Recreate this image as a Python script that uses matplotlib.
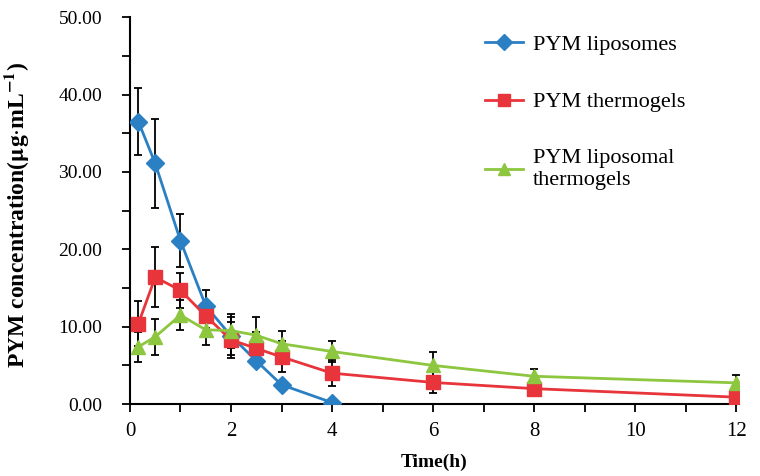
import numpy as np
import matplotlib
matplotlib.use("Agg")
import matplotlib.pyplot as plt
from matplotlib.ticker import MultipleLocator, FormatStrFormatter

plt.rcParams['font.family'] = ['Liberation Serif', 'DejaVu Serif']
plt.rcParams['mathtext.fontset'] = 'stix'

# Data
time_liposomes = [0.167, 0.5, 1, 1.5, 2, 2.5, 3, 4]
liposomes_mean = [36.5, 31.1, 21.1, 12.7, 8.8, 5.6, 2.5, 0.2]
liposomes_sd = [4.3, 5.8, 3.4, 2.1, 2.4, 0.5, 0.3, 0.0]

time_gels = [0.167, 0.5, 1, 1.5, 2, 2.5, 3, 4, 6, 8, 12]
thermogels_mean = [10.4, 16.4, 14.7, 11.4, 8.3, 7.2, 6.1, 4.0, 2.8, 2.0, 0.9]
thermogels_sd = [2.9, 3.9, 2.3, 1.5, 2.3, 2.1, 2.0, 1.7, 1.3, 0.4, 0.3]

lipo_gels_mean = [7.4, 8.7, 11.5, 9.6, 9.5, 8.9, 7.8, 6.8, 5.0, 3.6, 2.75]
lipo_gels_sd = [1.9, 2.3, 1.9, 2.0, 2.2, 2.3, 1.7, 1.4, 1.7, 1.0, 1.0]

blue = '#2b80c3'
red = '#e8343b'
green = '#8dc63f'

figure_1 = plt.figure(figsize=(7.6, 4.76), dpi=100)
axis_1 = figure_1.add_axes([0.171, 0.151, 0.801, 0.813])

# Error bars first so markers sit on top
for t, m, sd in [(time_liposomes, liposomes_mean, liposomes_sd),
                 (time_gels, thermogels_mean, thermogels_sd),
                 (time_gels, lipo_gels_mean, lipo_gels_sd)]:
    axis_1.errorbar(t, m, yerr=sd, fmt='none', ecolor='black', elinewidth=1.3,
                    capsize=3, capthick=1.3, zorder=2)

axis_1.plot(time_liposomes, liposomes_mean, color=blue, marker='D', markersize=9,
            linewidth=2, label='PYM liposomes', zorder=3)
axis_1.plot(time_gels, thermogels_mean, color=red, marker='s', markersize=9.5,
            linewidth=2, label='PYM thermogels', zorder=3)
axis_1.plot(time_gels, lipo_gels_mean, color=green, marker='^', markersize=9.5,
            linewidth=2, label='PYM liposomal\nthermogels', zorder=4)

# Axes styling
axis_1.set_xlim(0, 12.05)
axis_1.set_ylim(0, 50)
axis_1.spines['top'].set_visible(False)
axis_1.spines['right'].set_visible(False)
axis_1.spines['left'].set_linewidth(1.5)
axis_1.spines['bottom'].set_linewidth(1.5)

axis_1.xaxis.set_major_locator(MultipleLocator(2))
axis_1.xaxis.set_minor_locator(MultipleLocator(1))
axis_1.yaxis.set_major_locator(MultipleLocator(10))
axis_1.yaxis.set_minor_locator(MultipleLocator(5))
axis_1.yaxis.set_major_formatter(FormatStrFormatter('%.2f'))
axis_1.tick_params(which='both', direction='out', width=1.3, length=6)
axis_1.tick_params(axis='x', labelsize=15, pad=7)
axis_1.tick_params(axis='y', labelsize=14, pad=14)

axis_1.set_xlabel('Time(h)', fontsize=14, fontweight='bold')
axis_1.xaxis.set_label_coords(0.5, -0.128)
axis_1.set_ylabel(r'PYM concentration($\mathbf{\mu}$g$\cdot$mL$^{\mathbf{-1}}$)',
                  fontsize=17, fontweight='bold')
axis_1.yaxis.set_label_coords(-0.163, 0.49)

axis_1.legend(loc='upper left', bbox_to_anchor=(0.583, 0.955), frameon=False,
              fontsize=16, numpoints=1, handlelength=1.7, handletextpad=0.45,
              labelspacing=1.65, borderpad=0, borderaxespad=0, markerscale=0.85)

plt.savefig('out.png', dpi=100)
